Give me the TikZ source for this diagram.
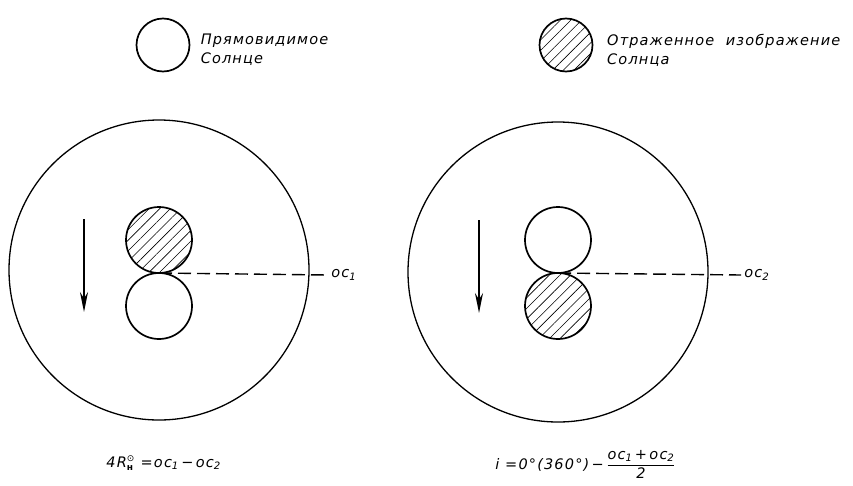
\documentclass[tikz,border=0pt]{standalone}
\usepackage{fontspec}
\usepackage{amsmath}
\setmainfont{DejaVu Sans}[LetterSpace=8]
\usetikzlibrary{positioning, arrows.meta, patterns.meta}

\newcommand{\ocsub}[1]{\textit{oc}\textsubscript{#1}}

\begin{document}
\begin{tikzpicture}[x=1pt, y=-1pt, >=Stealth, thick,
    every node/.style={font=\fontsize{14.5}{19}\selectfont\itshape},
    field/.style={draw, circle, line width=1.3pt, minimum size=300pt, inner sep=0pt},
    sundisk/.style={draw, circle, line width=1.7pt, minimum size=66pt, inner sep=0pt},
    keydisk/.style={draw, circle, line width=1.7pt, minimum size=53pt, inner sep=0pt},
    hatch/.style={pattern={Lines[angle=45, distance=7.5pt, line width=0.6pt]}},
    legendtext/.style={align=left, inner sep=0pt},
    level/.style={dash pattern=on 13pt off 6pt, line width=1.4pt},
    motion/.style={->, line width=1.7pt, >={Stealth[length=20pt, width=8pt]}}]
    \useasboundingbox (0,0) rectangle (853,485);

    % legend
    \node[keydisk] (keyOpen) at (163,45) {};
    \node[legendtext, right=10pt of keyOpen, yshift=-5pt] (keyOpenTxt) {Прямовидимое\\Солнце};
    \node[keydisk, hatch] (keyHatch) at (566,45) {};
    \node[legendtext, right=14pt of keyHatch, yshift=-5pt] (keyHatchTxt) {Отраженное\ \ изображение\\Солнца};

    % left field of view
    \node[field] (fieldA) at (159,270) {};
    \node[sundisk, hatch] (imgA) at (159,240) {};
    \node[sundisk] (sunA) at (159,306) {};
    \coordinate (touchA) at (159,273);
    \node[anchor=west, inner sep=3pt] (ocA) at (328,275) {\ocsub{1}};
    \draw[level] (touchA) -- (ocA.west);
    \coordinate (arrA1) at (84,219);
    \coordinate (arrA2) at (84,312);
    \draw[motion] (arrA1) -- (arrA2);

    % right field of view
    \node[field] (fieldB) at (558,272) {};
    \node[sundisk] (sunB) at (558,240) {};
    \node[sundisk, hatch] (imgB) at (558,306) {};
    \coordinate (touchB) at (558,273);
    \node[anchor=west, inner sep=3pt] (ocB) at (741,275) {\ocsub{2}};
    \draw[level] (touchB) -- (ocB.west);
    \coordinate (arrB1) at (479,220);
    \coordinate (arrB2) at (479,313);
    \draw[motion] (arrB1) -- (arrB2);

    % formulas
    \node[anchor=base west, inner sep=0pt] (heightF) at (106,467)
        {4R$_{\text{\upshape\bfseries\small н}}^{\text{\upshape\small ⊙}}$\ =\ocsub{1}\,−\,\ocsub{2}};
    \node[anchor=base west, inner sep=0pt] (indexF) at (495,469)
        {i =0°(360°)\,−\,$\genfrac{}{}{0.7pt}{0}{\text{\ocsub{1}\,+\,\ocsub{2}}}{\text{2}}$};
\end{tikzpicture}
\end{document}
